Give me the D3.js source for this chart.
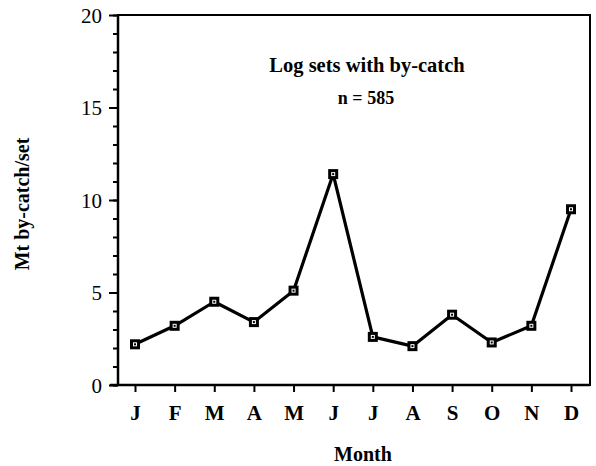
<!DOCTYPE html>
<html>
<head>
<meta charset="utf-8">
<script src="https://cdn.jsdelivr.net/npm/d3@7/dist/d3.min.js"></script>
<style>
  html, body { margin: 0; padding: 0; background: #fff; }
  text { font-family: "Liberation Serif", "DejaVu Serif", serif; font-weight: bold; fill: #000; }
</style>
</head>
<body>
<svg id="chart" width="596" height="466"></svg>
<script>
// Monthly mean by-catch per log set
const months = ["J", "F", "M", "A", "M", "J", "J", "A", "S", "O", "N", "D"];
const byCatch = [2.2, 3.2, 4.5, 3.4, 5.1, 11.4, 2.6, 2.1, 3.8, 2.3, 3.2, 9.5];
const yMajorTicks = [0, 5, 10, 15, 20];
const yMinorTicks = d3.range(0, 21, 1);

const svg = d3.select("#chart");
const plotLeft = 118, plotRight = 590, plotTop = 15, plotBottom = 385;

const x = d3.scalePoint()
  .domain(d3.range(months.length))
  .range([135, 571]);
const y = d3.scaleLinear().domain([0, 20]).range([plotBottom, plotTop]);

// frame
svg.append("rect")
  .attr("x", plotLeft).attr("y", plotTop)
  .attr("width", plotRight - plotLeft).attr("height", plotBottom - plotTop)
  .attr("fill", "none").attr("stroke", "#000").attr("stroke-width", 2);
svg.append("line")
  .attr("x1", plotLeft - 8).attr("x2", plotLeft).attr("y1", plotBottom).attr("y2", plotBottom)
  .attr("stroke", "#000").attr("stroke-width", 2.5);
svg.append("line")
  .attr("x1", plotLeft).attr("x2", plotLeft).attr("y1", plotTop).attr("y2", plotBottom)
  .attr("stroke", "#000").attr("stroke-width", 2.5);
svg.append("line")
  .attr("x1", plotLeft).attr("x2", plotRight).attr("y1", plotBottom).attr("y2", plotBottom)
  .attr("stroke", "#000").attr("stroke-width", 2.5);

// y axis: minor ticks every unit, labelled major ticks every 5
const yMinor = svg.append("g").attr("transform", `translate(${plotLeft},0)`)
  .call(d3.axisLeft(y).tickValues(yMinorTicks).tickSize(5).tickFormat(""));
const yMajor = svg.append("g").attr("transform", `translate(${plotLeft},0)`)
  .call(d3.axisLeft(y).tickValues(yMajorTicks).tickSize(9).tickPadding(7).tickFormat(d3.format("d")));
[yMinor, yMajor].forEach(g => {
  g.select(".domain").remove();
  g.selectAll(".tick line").attr("stroke", "#000").attr("stroke-width", 2);
});
yMajor.selectAll(".tick text")
  .style("font-size", "21px").style("font-weight", "normal")
  .attr("dy", "0.34em");

// x axis
const xAxis = svg.append("g").attr("transform", `translate(0,${plotBottom})`)
  .call(d3.axisBottom(x).tickSize(7).tickPadding(13).tickFormat(i => months[i]));
xAxis.select(".domain").remove();
xAxis.selectAll(".tick line").attr("stroke", "#000").attr("stroke-width", 2);
xAxis.selectAll(".tick text").style("font-size", "21px");

// series line
const line = d3.line().x((d, i) => x(i)).y(d => y(d));
svg.append("path")
  .datum(byCatch)
  .attr("d", line)
  .attr("fill", "none").attr("stroke", "#000")
  .attr("stroke-width", 3.2).attr("stroke-linejoin", "round");

// square markers with a small hollow centre
const pts = svg.append("g").selectAll("g").data(byCatch).join("g")
  .attr("transform", (d, i) => `translate(${x(i)},${y(d)})`);
pts.append("rect")
  .attr("x", -5).attr("y", -5).attr("width", 10).attr("height", 10)
  .attr("fill", "#000");
pts.append("rect")
  .attr("x", -1.5).attr("y", -1.5).attr("width", 3).attr("height", 3)
  .attr("fill", "none").attr("stroke", "#fff").attr("stroke-width", 1);

// annotation
svg.append("text").attr("x", 367).attr("y", 72)
  .attr("text-anchor", "middle").style("font-size", "20.5px")
  .text("Log sets with by-catch");
svg.append("text").attr("x", 366).attr("y", 104)
  .attr("text-anchor", "middle").style("font-size", "18px")
  .text("n = 585");

// axis titles
svg.append("text").attr("x", 363).attr("y", 461)
  .attr("text-anchor", "middle").style("font-size", "20px")
  .text("Month");
svg.append("text")
  .attr("transform", "translate(29,204) rotate(-90)")
  .attr("text-anchor", "middle").style("font-size", "20px")
  .text("Mt by-catch/set");
</script>
</body>
</html>
